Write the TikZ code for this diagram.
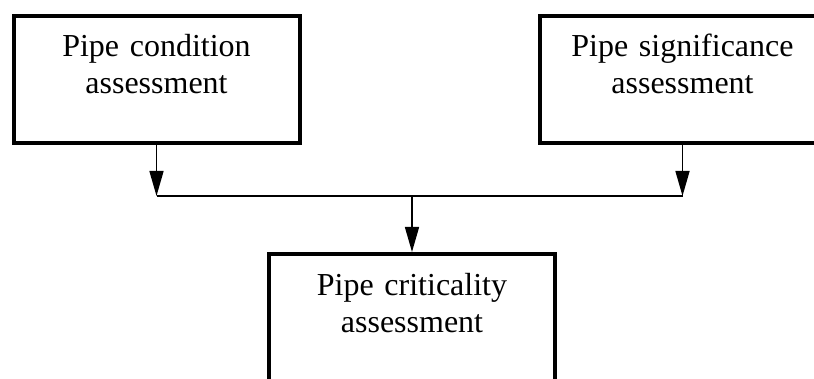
\documentclass[tikz,border=0pt]{standalone}
\usepackage{fontspec}
\setmainfont{Liberation Serif}
\usetikzlibrary{positioning,arrows.meta}

\begin{document}
\begin{tikzpicture}[x=1pt,y=1pt,
    box/.style={draw,black,line width=4pt,text width=270pt,inner xsep=8pt,
        inner ysep=10pt,text height=31pt,text depth=76pt,align=center,
        font=\fontsize{32}{37}\selectfont},
    link/.style={line width=1.5pt,black},
    arr/.style={link,-{Triangle[length=25pt,width=14pt]}}]
            \useasboundingbox (0,0) rectangle (814,378);
            % Boxes
            \node[box,anchor=north] (cond) at (156.5,364) {Pipe condition\\assessment};
            \node[box,anchor=north] (signif) at (682.5,364) {Pipe significance\\assessment};
            \node[box,anchor=north] (crit) at (412,126) {Pipe criticality\\assessment};
            % Bus
            \coordinate (busL) at (cond.south |- 0,182);
            \coordinate (busR) at (signif.south |- 0,182);
            \draw[arr] (cond.south)--(busL);
            \draw[arr] (signif.south)--(busR);
            \draw[link] (busL)--(busR);
            \draw[arr] (busL -| crit.north)--(crit.north);
\end{tikzpicture}
\end{document}
